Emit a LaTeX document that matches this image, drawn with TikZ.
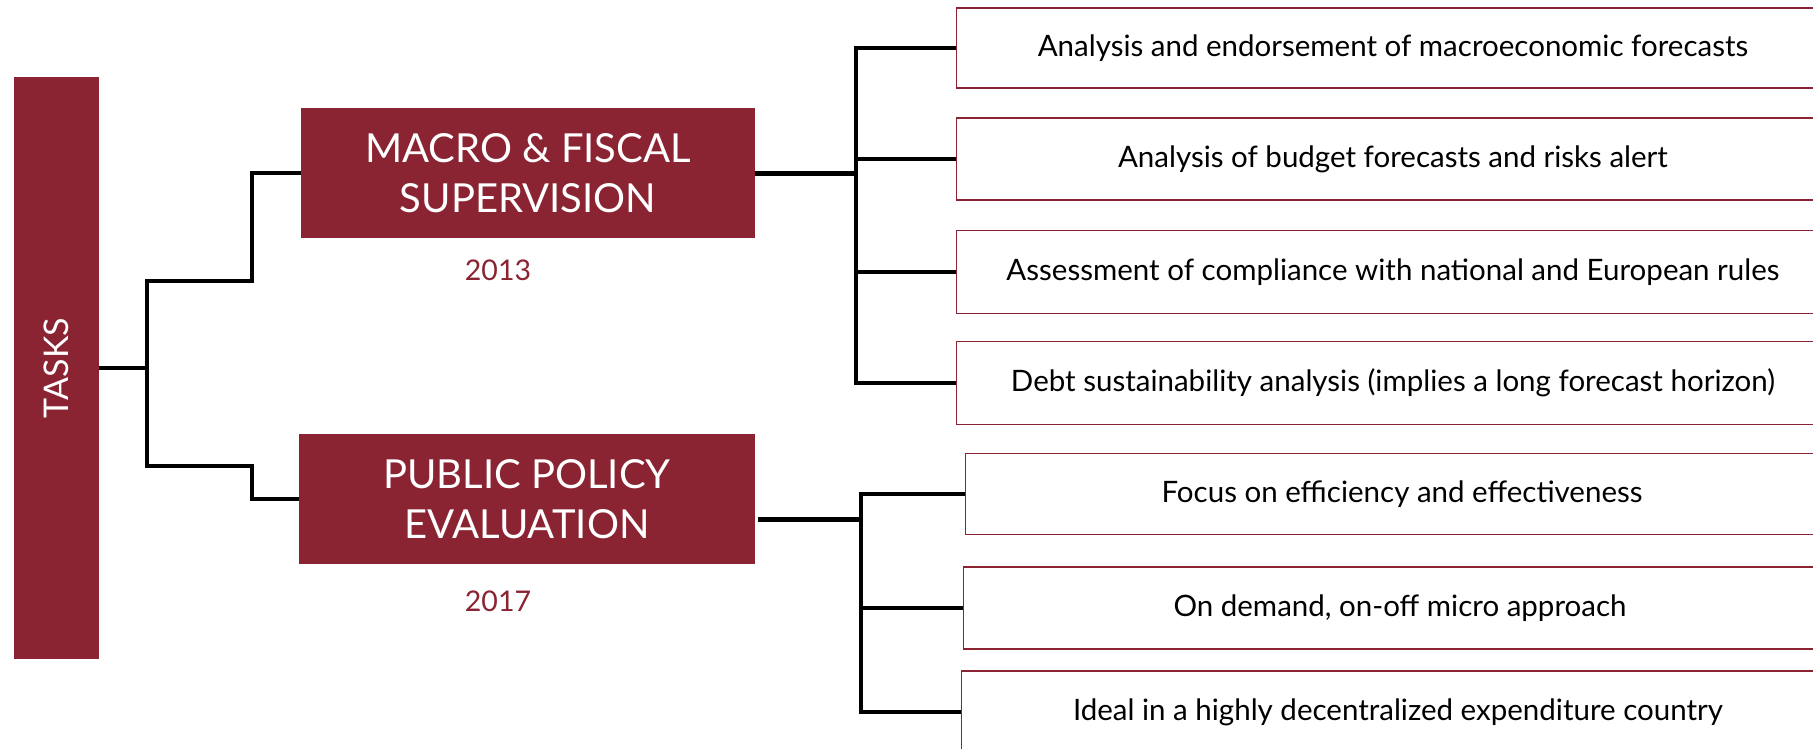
\documentclass[tikz,border=0pt]{standalone}
\usepackage{fontspec}
\setmainfont{Lato}
\usetikzlibrary{positioning}

\definecolor{wine}{HTML}{8A2432}

\begin{document}
\begin{tikzpicture}[x=1pt, y=-1pt,
    redbox/.style  = {fill=wine, text=white, inner sep=0pt, align=center,
                      font=\fontsize{40}{50}\selectfont},
    taskbox/.style = {draw=wine, line width=1.6pt, fill=white, inner sep=0pt,
                      minimum width=873, minimum height=82,
                      font=\fontsize{29.5}{34}\selectfont},
    year/.style    = {text=wine, font=\fontsize{28.5}{34}\selectfont},
    link/.style    = {draw=black, line width=3.4pt}]
\clip (0,0) rectangle (1813,748);

\node[redbox, minimum width=85, minimum height=582] (tasks) at (56,368)
  {\rotatebox{90}{\fontsize{34}{40}\selectfont TASKS}};
\node[redbox, minimum width=454, minimum height=130] (macro)  at (528,173)
  {MACRO \& FISCAL\\SUPERVISION};
\node[redbox, minimum width=456, minimum height=130] (public) at (527,499)
  {PUBLIC POLICY\\EVALUATION};
\node[year] at (498,270) {2013};
\node[year] at (498,601) {2017};

\node[taskbox, minimum height=80] (m1) at (1393,48)
  {\raisebox{-3pt}{Analysis and endorsement of macroeconomic forecasts}};
\node[taskbox] (m2) at (1393,159)
  {\raisebox{-3pt}{Analysis of budget forecasts and risks alert}};
\node[taskbox, minimum height=83] (m3) at (1393,272)
  {\raisebox{-3pt}{Assessment of compliance with national and European rules}};
\node[taskbox, minimum height=83] (m4) at (1393,383)
  {\raisebox{-3pt}{Debt sustainability analysis (implies a long forecast horizon)}};
\node[taskbox, minimum height=81] (p1) at (1402,494)
  {\raisebox{-3pt}{Focus on efficiency and effectiveness}};
\node[taskbox] (p2) at (1400,608) {\raisebox{-3pt}{On demand, on-off micro approach}};
\node[taskbox] (p3) at (1398,712)
  {\raisebox{-3pt}{Ideal in a highly decentralized expenditure country}};

\coordinate (t) at (147,368);
\coordinate (mfork) at (856,173);
\coordinate (pfork) at (861,519);

\draw[link] (tasks.east) -- (t);
\draw[link] (macro.west) -| (252,281) -| (t);
\draw[link] (public.west) -| (252,466) -| (t);

\draw[link, line width=5pt] (macro.east) -- (mfork);
\foreach \i in {1,...,4}
  \draw[link] (mfork) |- (m\i.west);
\draw[link, line width=5pt] ([xshift=3pt]public.east |- pfork) -- (pfork);
\foreach \i in {1,...,3}
  \draw[link] (pfork) |- (p\i.west);
\end{tikzpicture}
\end{document}
